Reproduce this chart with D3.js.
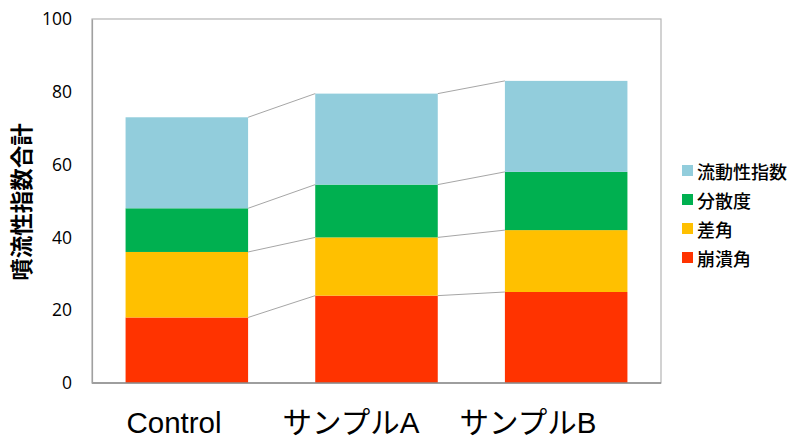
<!DOCTYPE html>
<html><head><meta charset="utf-8">
<script src="https://cdn.jsdelivr.net/npm/d3@7"></script>
<style>body{margin:0;background:#fff}</style>
</head><body>
<svg id="c" width="788" height="438"></svg>
<script>
const categories = ["Control", "サンプルA", "サンプルB"];
const seriesNames = ["崩潰角", "差角", "分散度", "流動性指数"];
const collapseAngle = [18, 24, 25];
const diffAngle = [18, 16, 17];
const dispersion = [12, 14.5, 16];
const fluidityIndex = [25, 25, 25];
const yTicks = [0, 20, 40, 60, 80, 100];
const colors = ["#FF3300", "#FFC000", "#00B050", "#92CDDC"];
const yTitle = "噴流性指数合計";

const seriesValues = [collapseAngle, diffAngle, dispersion, fluidityIndex];
const rows = categories.map((c, i) => {
  const r = {cat: c};
  seriesNames.forEach((s, j) => r[s] = seriesValues[j][i]);
  return r;
});
const stacked = d3.stack().keys(seriesNames)(rows);

const svg = d3.select("#c");
const L = 92, R = 661, T = 19, B = 383;
const x = d3.scaleBand().domain(categories).range([L, R]).paddingInner(0.354).paddingOuter(0.177);
const xLab = d3.scaleBand().domain(categories).range([85.5, 616.5]);
const y = d3.scaleLinear().domain([0, 100]).range([B, T]);

// frame
svg.append("rect").attr("x", L).attr("y", T).attr("width", R - L).attr("height", B - T)
  .attr("fill", "none").attr("stroke", "#b4b4b4").attr("stroke-width", 1.2);

// bars
svg.append("g").selectAll("g").data(stacked).join("g")
  .attr("fill", (d, i) => colors[i])
  .selectAll("rect").data(d => d).join("rect")
  .attr("x", d => x(d.data.cat))
  .attr("width", x.bandwidth())
  .attr("y", d => y(d[1]))
  .attr("height", d => y(d[0]) - y(d[1]));

// connector lines
const conn = svg.append("g").attr("stroke", "#a6a6a6").attr("stroke-width", 1);
stacked.forEach(s => {
  for (let i = 0; i < categories.length - 1; i++) {
    conn.append("line")
      .attr("x1", x(categories[i]) + x.bandwidth()).attr("y1", y(s[i][1]))
      .attr("x2", x(categories[i + 1])).attr("y2", y(s[i + 1][1]));
  }
});

// bottom axis line
svg.append("line").attr("x1", L).attr("x2", R).attr("y1", B).attr("y2", B)
  .attr("stroke", "#8c8c8c").attr("stroke-width", 1.5);

// y axis
const ya = svg.append("g").attr("transform", `translate(${L},0)`)
  .call(d3.axisLeft(y).tickValues(yTicks).tickSize(0).tickPadding(20));
ya.select(".domain").attr("stroke", "#a0a0a0").attr("stroke-width", 1.2);
ya.selectAll("text").attr("font-family", "'Open Sans', sans-serif").attr("font-size", 17.5).attr("fill", "#000");

// x labels
svg.append("g").selectAll("text").data(categories).join("text")
  .attr("x", d => xLab(d) + xLab.bandwidth() / 2)
  .attr("y", 433)
  .attr("text-anchor", "middle")
  .attr("font-family", "'Liberation Sans', Arial, 'Noto Sans CJK JP', sans-serif")
  .attr("font-size", 29.5).attr("fill", "#000")
  .text(d => d);

// y title
svg.append("text")
  .attr("transform", "translate(30,202) rotate(-90)")
  .attr("text-anchor", "middle")
  .attr("font-family", "'Noto Sans CJK JP', sans-serif")
  .attr("font-weight", "bold").attr("font-size", 22.5).attr("fill", "#000")
  .text(yTitle);

// legend (reverse order)
const legOrder = seriesNames.map((s, i) => i).reverse();
const lg = svg.append("g").selectAll("g").data(legOrder).join("g")
  .attr("transform", (d, k) => `translate(682,${170.5 + k * 29})`);
lg.append("rect").attr("x", 0).attr("y", -5.5).attr("width", 11).attr("height", 11)
  .attr("fill", d => colors[d]);
lg.append("text").attr("x", 15).attr("y", 0).attr("dominant-baseline", "central")
  .attr("font-family", "'Noto Sans CJK JP', sans-serif").attr("font-weight", 500)
  .attr("font-size", 18).attr("fill", "#000")
  .text(d => seriesNames[d]);
</script>
</body></html>
